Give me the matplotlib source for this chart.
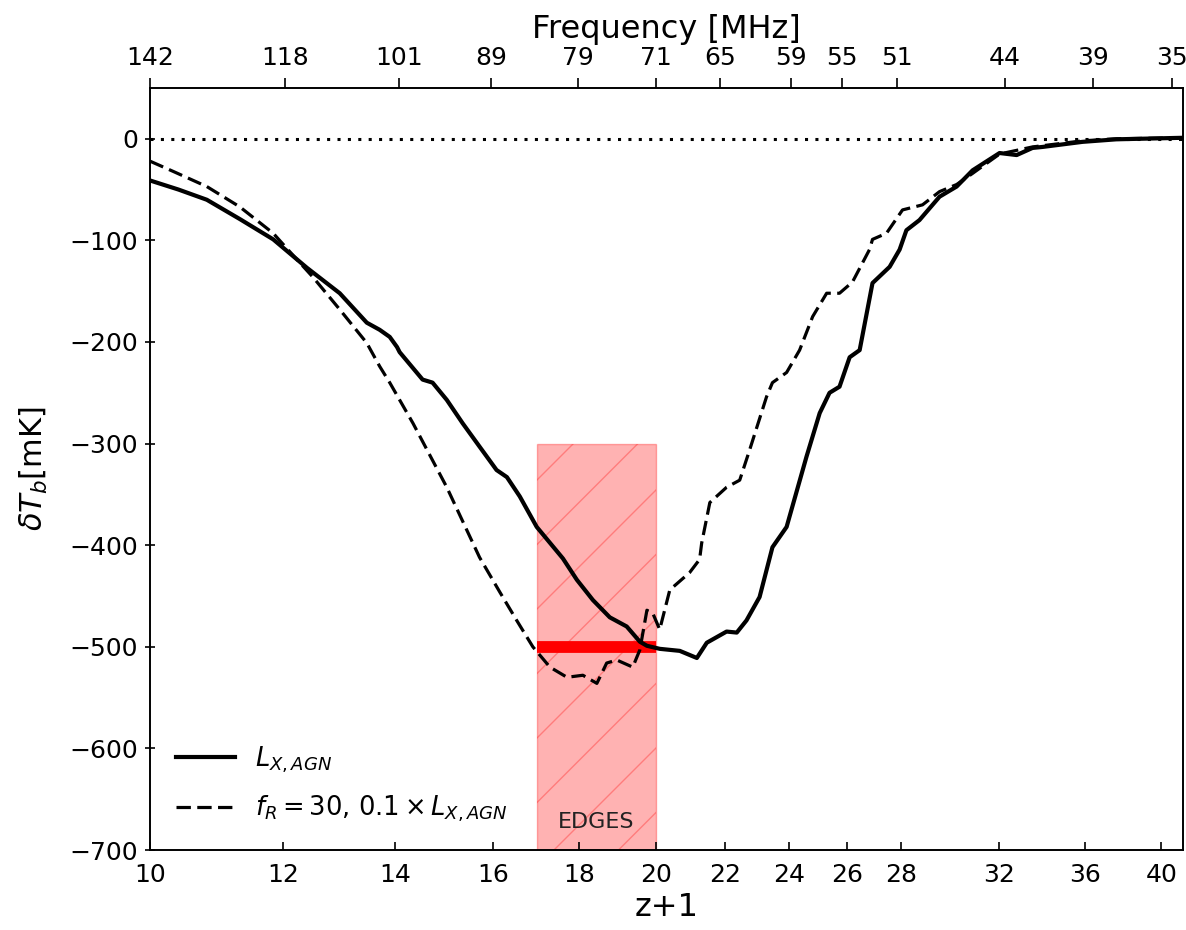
import numpy as np
import matplotlib
matplotlib.use('Agg')
import matplotlib.pyplot as plt
from matplotlib.patches import Rectangle
from matplotlib.lines import Line2D
from matplotlib.ticker import NullLocator

# ---- data ----
z_solid = [10.00, 10.40, 10.81, 11.31, 11.84, 12.40, 12.97, 13.46, 13.70, 13.89, 14.03, 14.08,
           14.53, 14.73, 15.02, 15.35, 15.71, 16.08, 16.31, 16.60, 16.99, 17.61,
           17.95, 18.35, 18.78, 19.22, 19.57, 19.76, 20.11, 20.67, 21.16, 21.45,
           22.04, 22.35, 22.65, 23.06, 23.47, 23.93, 24.59, 25.04, 25.38, 25.73,
           26.09, 26.45, 26.92, 27.56, 27.94, 28.20, 28.71, 29.51, 30.21, 30.88,
           32.04, 32.80, 33.52, 33.99, 35.90, 37.61, 41.2]
T_solid = [-41, -50, -60, -79, -99, -127, -152, -181, -188, -195, -205, -210,
           -237, -240, -257, -280, -303, -326, -333, -352, -382, -413,
           -434, -454, -471, -480, -495, -499, -502, -504, -511, -496,
           -485, -486, -474, -451, -402, -382, -313, -270, -250, -244,
           -215, -208, -142, -126, -109, -90, -80, -57, -47, -31,
           -14, -16, -9, -8, -3, -0.5, 1]

z_dashed = [10.00, 10.32, 10.81, 11.31, 11.84, 12.11, 12.50, 12.97, 13.46, 13.70,
            13.89, 14.34, 15.02, 15.71, 16.15, 16.53, 16.90, 17.30, 17.71, 18.10,
            18.45, 18.70, 18.96, 19.38, 19.57, 19.76, 19.92, 20.11, 20.39, 20.95,
            21.24, 21.30, 21.54, 22.04, 22.44, 22.75, 23.28, 23.47, 23.93, 24.36,
            24.80, 25.28, 25.73, 26.19, 26.81, 26.92, 27.44, 28.05, 28.83, 29.51,
            30.21, 30.88, 32.04, 33.52, 35.90, 37.61, 41.2]
T_dashed = [-22, -32, -47, -67, -93, -111, -136, -168, -201, -224,
            -240, -280, -343, -412, -446, -474, -500, -520, -530, -528,
            -536, -516, -513, -520, -503, -464, -467, -483, -444, -427,
            -414, -398, -358, -343, -336, -306, -254, -240, -230, -208,
            -175, -152, -152, -141, -109, -99, -93, -70, -65, -52,
            -45, -34, -15, -8, -2, 0, 1]

xticks = [10, 12, 14, 16, 18, 20, 22, 24, 26, 28, 32, 36, 40]
freq_ticks = [142, 118, 101, 89, 79, 71, 65, 59, 55, 51, 44, 39, 35]
yticks = [-700, -600, -500, -400, -300, -200, -100, 0]
edges_z = [17, 20]
edges_T = [-700, -300]
edges_depth = [-500, -500]
nu21 = 1420.0

label_solid = r'$L_{X,AGN}$'
label_dashed = r'$f_R = 30$, $0.1 \times L_{X,AGN}$'

# ---- figure ----
W, H = 1186, 930
fig = plt.figure(figsize=(W / 100, H / 100), dpi=100)
ax = fig.add_axes([150 / W, 80 / H, 1033 / W, 762 / H])
ax.set_xscale('log')
ax.set_xlim(10, 41.2)
ax.set_ylim(-700, 50)

# EDGES box
rect = Rectangle((edges_z[0], edges_T[0]), edges_z[1] - edges_z[0], edges_T[1] - edges_T[0],
                 facecolor=(1, 0, 0, 0.3), edgecolor=(1, 0, 0, 0.3), lw=1, zorder=1)
ax.add_patch(rect)
# coarse hatch lines, 45 degrees in display space
for k in range(-14, 4):
    c = -87 + 64.5 * k
    xs = np.array([0.0, W])
    ys = xs + c
    ln = Line2D(xs / W, ys / H, transform=fig.transFigure, color=(1, 0, 0, 0.3), lw=1.0, zorder=1.5)
    ax.add_artist(ln)
    ln.set_clip_path(rect)

ax.plot(edges_z, edges_depth, color='red', lw=8.5, solid_capstyle='butt', zorder=2)
ax.text(np.sqrt(edges_z[0] * edges_z[1]), -672, 'EDGES', ha='center', va='center',
        fontsize=16, color='#222222', zorder=4)

ax.axhline(0, color='k', ls=(0, (1, 2.4)), lw=2.2, zorder=2)
ax.plot(z_solid, T_solid, color='k', lw=3, label=label_solid, zorder=3)
ax.plot(z_dashed, T_dashed, color='k', lw=2.3, ls=(0, (4.5, 2.0)), label=label_dashed, zorder=3)

ax.set_xticks(xticks)
ax.set_xticklabels([str(v) for v in xticks])
ax.xaxis.set_minor_locator(NullLocator())
ax.set_yticks(yticks)
ax.set_yticklabels([str(v).replace('-', '\u2212') for v in yticks])

ax.tick_params(axis='x', which='major', direction='in', length=6, width=1.2,
               labelsize=18, pad=9, top=False)
ax.tick_params(axis='y', which='major', direction='inout', length=7, width=1.2,
               labelsize=18, pad=5)
for s in ax.spines.values():
    s.set_linewidth(1.2)

ax.set_xlabel('z+1', fontsize=23, labelpad=4)
ax.set_ylabel(r'$\delta T_b$[mK]', fontsize=22, labelpad=14)

leg = ax.legend(loc='lower left', frameon=False, fontsize=18.5, handlelength=2.3,
                labelspacing=0.75, borderaxespad=0.6)

# top axis: frequency
ax2 = ax.twiny()
ax2.set_xscale('log')
ax2.set_xlim(ax.get_xlim())
ax2.set_xticks([nu21 / f for f in freq_ticks])
ax2.set_xticklabels([str(f) for f in freq_ticks])
ax2.xaxis.set_minor_locator(NullLocator())
ax2.tick_params(axis='x', which='major', direction='out', length=7, width=1.2,
                labelsize=18, pad=6)
for s in ax2.spines.values():
    s.set_linewidth(1.2)
ax2.set_xlabel('Frequency [MHz]', fontsize=23, labelpad=6)

fig.savefig('out.png', dpi=100)
